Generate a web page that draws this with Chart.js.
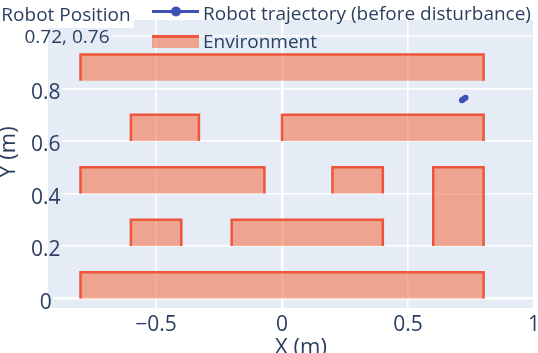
<!DOCTYPE html>
<html>
<head>
<meta charset="utf-8">
<script src="https://cdn.jsdelivr.net/npm/chart.js@4.4.1/dist/chart.umd.min.js"></script>
<style>
  html, body { margin: 0; padding: 0; background: #fff; }
  canvas { display: block; }
</style>
</head>
<body>
<canvas id="chart" width="538" height="353"></canvas>
<script>
// walls of the environment, one rectangle per index
const wallX0 = [-0.8, -0.8, -0.6, 0.0, -0.8, 0.2, 0.6, -0.6, -0.2];
const wallX1 = [0.8, 0.8, -0.33, 0.8, -0.07, 0.4, 0.8, -0.4, 0.4];
const wallY0 = [0.0, 0.83, 0.6, 0.6, 0.4, 0.4, 0.2, 0.2, 0.2];
const wallY1 = [0.1, 0.93, 0.7, 0.7, 0.5, 0.5, 0.5, 0.3, 0.3];

// robot trajectory (before disturbance)
const trajX = [0.714, 0.721, 0.728];
const trajY = [0.755, 0.760, 0.765];

const robotPos = [0.72, 0.76];

const xTicks = [-0.5, 0, 0.5, 1];
const yTicks = [0, 0.2, 0.4, 0.6, 0.8];

const PLOT_BG = '#E5ECF6';
const TEXT = '#2a3f5f';
const WALL_LINE = '#EF553B';
const WALL_FILL = 'rgba(244, 105, 60, 0.55)';
const TRAJ = '#3F51B5';
const FONT = "'Open Sans', sans-serif";

function fmt(v) {
    v = parseFloat(v.toFixed(2));
    if (v === 0) return '0';
    return (v < 0 ? '\u2212' : '') + Math.abs(v);
}

const datasets = [];
for (let i = 0; i < wallX0.length; i++) {
    datasets.push({
        data: [
            {x: wallX0[i], y: wallY0[i]},
            {x: wallX0[i], y: wallY1[i]},
            {x: wallX1[i], y: wallY1[i]},
            {x: wallX1[i], y: wallY0[i]}
        ],
        showLine: true,
        borderColor: WALL_LINE,
        borderWidth: 2.5,
        backgroundColor: WALL_FILL,
        fill: 'shape',
        pointRadius: 0,
        tension: 0
    });
}
datasets.push({
    data: trajX.map((x, i) => ({x: x, y: trajY[i]})),
    showLine: true,
    borderColor: TRAJ,
    borderWidth: 2,
    pointRadius: 3,
    pointBackgroundColor: TRAJ,
    pointBorderWidth: 0,
    fill: false
});

// plot background + bits of grid hidden behind text
const backdrop = {
    id: 'backdrop',
    beforeDraw(chart) {
        const {ctx, chartArea: a} = chart;
        ctx.save();
        ctx.fillStyle = '#fff';
        ctx.fillRect(0, 0, chart.width, chart.height);
        ctx.fillStyle = PLOT_BG;
        ctx.fillRect(a.left, a.top, a.right - a.left, a.bottom - a.top);
        ctx.fillStyle = '#fff';
        ctx.fillRect(a.left, a.top, 86, 8); // box of the "Robot Position" note
        ctx.restore();
    },
    beforeDatasetsDraw(chart) {
        const {ctx, chartArea: a, scales} = chart;
        const y = scales.y;
        ctx.save();
        ctx.font = '21px ' + FONT;
        ctx.fillStyle = PLOT_BG;
        y.ticks.forEach(t => {
            const py = y.getPixelForValue(t.value);
            let right;
            if (t.value >= 1) right = 112;
            else right = 46 + ctx.measureText(fmt(t.value)).width / 2 + 1;
            if (right > a.left) ctx.fillRect(a.left, py - 2, right - a.left, 4);
        });
        ctx.restore();
    },
    afterDraw(chart) {
        const ctx = chart.ctx;
        ctx.save();
        ctx.fillStyle = TEXT;
        ctx.textBaseline = 'alphabetic';

        // annotation
        ctx.font = '19px ' + FONT;
        ctx.textAlign = 'center';
        ctx.fillText('Robot Position', 66, 20.5);
        ctx.fillText(robotPos[0].toFixed(2) + ', ' + robotPos[1].toFixed(2), 67, 42.5);

        // legend
        ctx.textAlign = 'left';
        ctx.strokeStyle = TRAJ;
        ctx.lineWidth = 3;
        ctx.beginPath();
        ctx.moveTo(152, 11.5);
        ctx.lineTo(199, 11.5);
        ctx.stroke();
        ctx.fillStyle = TRAJ;
        ctx.beginPath();
        ctx.arc(176, 11.5, 5, 0, Math.PI * 2);
        ctx.fill();
        ctx.fillStyle = TEXT;
        ctx.fillText('Robot trajectory (before disturbance)', 203, 20);

        ctx.fillStyle = WALL_FILL;
        ctx.fillRect(152, 36, 47, 12);
        ctx.strokeStyle = WALL_LINE;
        ctx.lineWidth = 3;
        ctx.beginPath();
        ctx.moveTo(152, 36.5);
        ctx.lineTo(199, 36.5);
        ctx.stroke();
        ctx.fillStyle = TEXT;
        ctx.fillText('Environment', 203, 47.5);

        // axis titles
        ctx.font = '22px ' + FONT;
        ctx.textAlign = 'center';
        ctx.fillText('X (m)', 301, 354);
        ctx.translate(8.5, 152);
        ctx.rotate(-Math.PI / 2);
        ctx.textBaseline = 'middle';
        ctx.fillText('Y (m)', 0, 0);
        ctx.restore();
    }
};

const grid = {
    color: '#fff',
    lineWidth: c => (c.tick && c.tick.value === 0 ? 2.5 : 1.5),
    drawTicks: false
};

new Chart(document.getElementById('chart'), {
    type: 'scatter',
    data: {datasets: datasets},
    options: {
        responsive: false,
        animation: false,
        layout: {padding: {top: 20, right: 4, left: 0, bottom: 0}},
        plugins: {legend: {display: false}, tooltip: {enabled: false}},
        scales: {
            x: {
                type: 'linear',
                min: -0.929,
                max: 1,
                border: {display: false},
                grid: grid,
                afterBuildTicks: s => { s.ticks = xTicks.map(v => ({value: v})); },
                afterFit: s => { s.height = 45; s.paddingLeft = 0; s.paddingRight = 0; },
                ticks: {
                    color: TEXT,
                    font: {family: FONT, size: 21},
                    padding: 4,
                    maxRotation: 0,
                    autoSkip: false,
                    callback: v => fmt(v)
                }
            },
            y: {
                type: 'linear',
                min: -0.036,
                max: 1.061,
                border: {display: false},
                grid: grid,
                afterBuildTicks: s => { s.ticks = yTicks.concat([1]).map(v => ({value: v})); },
                afterFit: s => { s.width = 48; },
                ticks: {
                    color: TEXT,
                    font: {family: FONT, size: 21},
                    mirror: true,
                    crossAlign: 'center',
                    padding: -17,
                    labelOffset: 4,
                    z: 1,
                    autoSkip: false,
                    callback: v => (v >= 1 ? '' : fmt(v))
                }
            }
        }
    },
    plugins: [backdrop]
});
</script>
</body>
</html>
